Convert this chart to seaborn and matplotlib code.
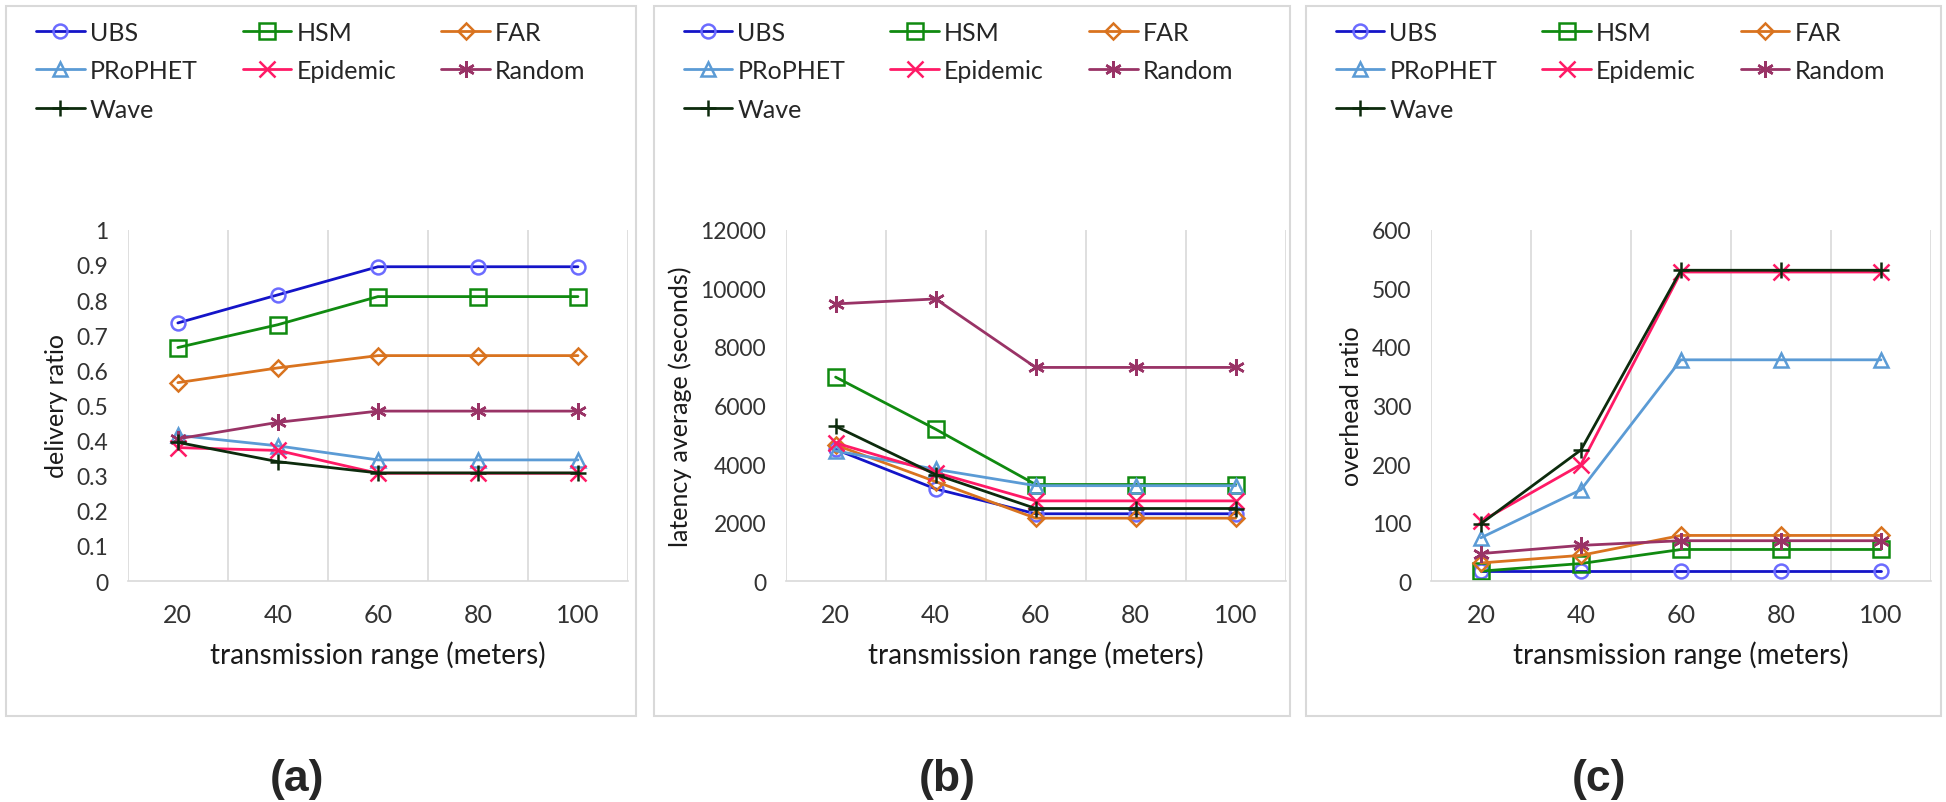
import matplotlib.pyplot as plt
import seaborn as sns
from matplotlib.patches import Rectangle

sns.set_theme(style="white")
plt.rcParams['font.family'] = ['Lato', 'DejaVu Sans']

# dados
ranges = [20, 40, 60, 80, 100]
methods = ["UBS", "HSM", "FAR", "PRoPHET", "Epidemic", "Random", "Wave"]

delivery = {
    "UBS":      [0.735, 0.815, 0.895, 0.895, 0.895],
    "HSM":      [0.665, 0.730, 0.810, 0.810, 0.810],
    "FAR":      [0.565, 0.607, 0.642, 0.642, 0.642],
    "PRoPHET":  [0.415, 0.385, 0.345, 0.345, 0.345],
    "Epidemic": [0.380, 0.372, 0.307, 0.307, 0.307],
    "Random":   [0.405, 0.452, 0.484, 0.484, 0.484],
    "Wave":     [0.395, 0.340, 0.308, 0.308, 0.308],
}
latency = {
    "UBS":      [4500, 3150, 2300, 2300, 2300],
    "HSM":      [6970, 5190, 3300, 3300, 3300],
    "FAR":      [4650, 3400, 2150, 2150, 2150],
    "PRoPHET":  [4450, 3820, 3260, 3260, 3260],
    "Epidemic": [4720, 3710, 2740, 2740, 2740],
    "Random":   [9470, 9640, 7300, 7300, 7300],
    "Wave":     [5290, 3640, 2480, 2480, 2480],
}
overhead = {
    "UBS":      [18, 18, 18, 18, 18],
    "HSM":      [17, 30, 54, 54, 54],
    "FAR":      [31, 44, 78, 78, 78],
    "PRoPHET":  [74, 156, 378, 378, 378],
    "Epidemic": [102, 199, 528, 528, 528],
    "Random":   [47, 61, 69, 69, 69],
    "Wave":     [98, 224, 531, 531, 531],
}

colors = {"UBS": "#1414c8", "HSM": "#108a10", "FAR": "#d9731f", "PRoPHET": "#5b9bd5",
          "Epidemic": "#ff1a66", "Random": "#993366", "Wave": "#0d2b0d"}
markers = {"UBS": "o", "HSM": "s", "FAR": "D", "PRoPHET": "^",
           "Epidemic": "x", "Random": (6, 2, 0), "Wave": "+"}
msizes = {"UBS": 10, "HSM": 11, "FAR": 8, "PRoPHET": 10, "Epidemic": 12, "Random": 12, "Wave": 12}

# ordem da legenda (matplotlib preenche por coluna)
legend_order = ["UBS", "PRoPHET", "Wave", "HSM", "Epidemic", "FAR", "Random"]

fig = plt.figure(figsize=(19.46, 8.03), dpi=100)

panels = [
    (delivery, "delivery ratio", (0, 1), 0.1, 0.0657, "(a)"),
    (latency, "latency average (seconds)", (0, 12000), 2000, 0.4037, "(b)"),
    (overhead, "overhead ratio", (0, 600), 100, 0.7353, "(c)"),
]
boxes = [(0.0032, 0.327), (0.336, 0.663), (0.671, 0.9975)]
width = 0.257

for i, (data, ylabel, ylim, step, left, tag) in enumerate(panels):
    # moldura cinza de cada painel
    bx0, bx1 = boxes[i]
    fig.patches.append(Rectangle((bx0, 0.1066), bx1 - bx0, 0.885, transform=fig.transFigure,
                                 fill=False, edgecolor="#d9d9d9", lw=1.5))

    ax = fig.add_axes([left, 0.2751, width, 0.4374])
    handles = {}
    for m in methods:
        sns.lineplot(x=ranges, y=data[m], color=colors[m], marker=markers[m],
                     markersize=msizes[m], markerfacecolor="none",
                     markeredgecolor="#6b6bff" if m == "UBS" else colors[m],
                     markeredgewidth=1.8, linewidth=2, label=m, legend=False, ax=ax)
        handles[m] = ax.lines[-1]

    ax.set_xlim(10, 110)
    ax.set_ylim(*ylim)
    ax.set_xticks(ranges)
    ax.set_xticks(range(10, 111, 20), minor=True)
    ax.xaxis.grid(True, which="minor", color="#d9d9d9", lw=1.2)
    ax.xaxis.grid(False, which="major")
    ax.yaxis.grid(False)
    n = int(round((ylim[1] - ylim[0]) / step))
    yt = [ylim[0] + k * step for k in range(n + 1)]
    ax.set_yticks(yt)
    if step < 1:
        ax.set_yticklabels(["%g" % round(t, 1) for t in yt])
    ax.tick_params(axis="both", which="both", length=0, colors="#333333")
    ax.tick_params(axis="x", pad=16, labelsize=18)
    ax.tick_params(axis="y", pad=14, labelsize=16.5)
    for s in ["top", "right", "left"]:
        ax.spines[s].set_visible(False)
    ax.spines["bottom"].set_color("#d9d9d9")
    ax.spines["bottom"].set_linewidth(1.2)
    ax.set_xlabel("transmission range (meters)", fontsize=20, labelpad=10, color="#1a1a1a")
    ax.set_ylabel(ylabel, fontsize=18, labelpad=6, color="#1a1a1a")

    ax.legend([handles[m] for m in legend_order], legend_order, loc="upper left",
              bbox_to_anchor=(bx0 + 0.0153, 0.973), bbox_transform=fig.transFigure,
              ncol=3, frameon=False, fontsize=18, handlelength=1.95, columnspacing=1.8,
              labelspacing=0.62, handletextpad=0.2, borderpad=0, borderaxespad=0)

    fig.text((bx0 + bx1) / 2 - 0.0126, 0.029, tag, fontsize=32, fontweight="bold",
             family="Liberation Sans", ha="center", va="center")

fig.savefig("out.png", dpi=100)
